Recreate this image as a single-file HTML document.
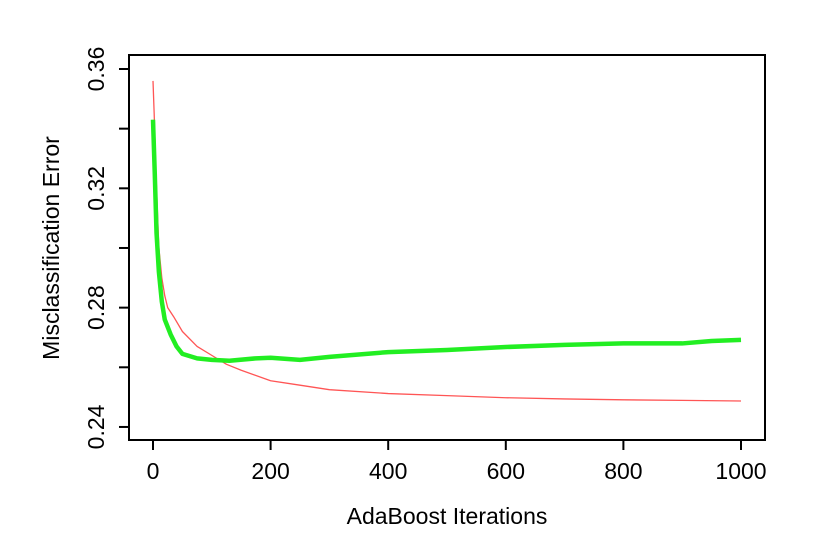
<!DOCTYPE html>
<html><head><meta charset="utf-8"><style>body{margin:0;background:#fff}svg{display:block;font-family:"Liberation Sans",Arial,sans-serif}</style></head>
<body>
<svg id="chart" width="838" height="550">
<rect x="129" y="55" width="636" height="385" fill="none" stroke="#000" stroke-width="2"/>
<g id="axes"></g>
<g id="series"></g>
<text x="447" y="524" font-size="23" text-anchor="middle">AdaBoost Iterations</text>
<text transform="translate(59,248) rotate(-90)" font-size="23" text-anchor="middle">Misclassification Error</text>
</svg>
<script>
const xTicks=[0,200,400,600,800,1000];
const yTicks=[0.24,0.26,0.28,0.30,0.32,0.34,0.36];
const yLabels=["0.24","","0.28","","0.32","","0.36"];
const redX=[0,2,5,10,15,20,25,35,50,75,100,125,150,200,250,300,400,500,600,700,800,900,1000];
const redY=[0.356,0.345,0.325,0.300,0.290,0.284,0.280,0.277,0.272,0.267,0.264,0.261,0.259,0.2555,0.254,0.2525,0.2512,0.2505,0.2498,0.2494,0.2491,0.2489,0.2487];
const greenX=[0,3,6,10,15,20,30,40,50,75,100,130,175,200,250,300,400,500,600,700,800,900,950,1000];
const greenY=[0.343,0.325,0.305,0.292,0.282,0.276,0.271,0.267,0.2645,0.263,0.2625,0.2622,0.263,0.2632,0.2625,0.2635,0.2651,0.2658,0.2668,0.2675,0.268,0.268,0.2688,0.2692];
const X=v=>153+v*0.588, Y=v=>69+(0.36-v)*2983;
const ns="http://www.w3.org/2000/svg";
const ax=document.getElementById('axes'), se=document.getElementById('series');
function mk(t,a,p){const e=document.createElementNS(ns,t);for(const k in a)e.setAttribute(k,a[k]);p.appendChild(e);return e;}
xTicks.forEach(v=>{
 const l=mk('line',{x1:X(v),x2:X(v),y1:440,y2:450,stroke:'#000','stroke-width':2},ax);
 
 
 const t=mk('text',{x:X(v),y:479,'font-size':23,'text-anchor':'middle'},ax);t.textContent=v;
 
 
});
yTicks.forEach((v,i)=>{
 const l=mk('line',{x1:119,x2:129,y1:Y(v),y2:Y(v),stroke:'#000','stroke-width':2},ax);
 
 
 if(yLabels[i]){const t=mk('text',{transform:`translate(104,${Y(v)}) rotate(-90)`,'font-size':23,'text-anchor':'middle'},ax);t.textContent=yLabels[i];
 
 }
});
function line(xs,ys,c,w,name){
 const p=mk('polyline',{points:xs.map((x,i)=>X(x)+','+Y(ys[i])).join(' '),fill:'none',stroke:c,'stroke-width':w,'stroke-linejoin':'round'},se);
 
 
}
line(redX,redY,'#f55','1.3','train-error-line');
line(greenX,greenY,'#22ee22','4.5','test-error-line');
</script>
</body></html>
